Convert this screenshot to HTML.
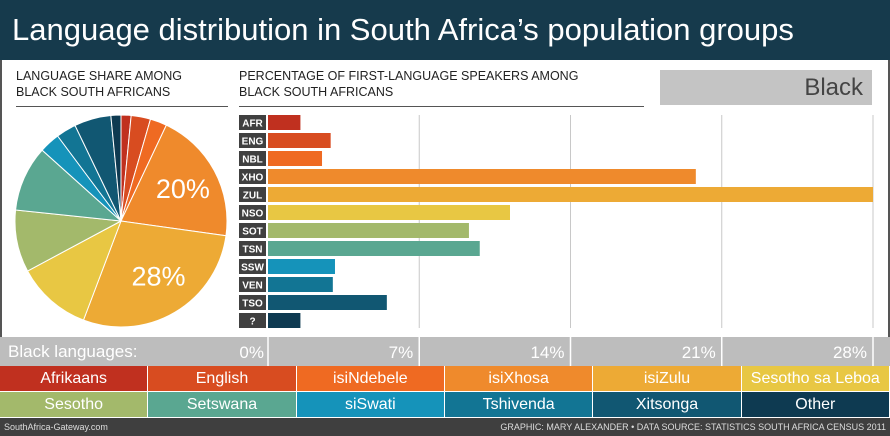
<!DOCTYPE html>
<html><head><meta charset="utf-8"><style>
body{margin:0;width:890px;height:436px;overflow:hidden;background:#fff;font-family:"Liberation Sans",sans-serif}
#wrap{position:relative;width:890px;height:436px;background:#fff}
.abs{position:absolute}
</style></head><body>
<div id="wrap">
<div class="abs" style="left:0;top:0;width:890px;height:60px;background:#163a4c;color:#fff;font-size:31px;line-height:60px;padding-left:12px;box-sizing:border-box">Language distribution in South Africa’s population groups</div>
<div class="abs" style="left:0;top:60px;width:2px;height:277px;background:#555"></div>
<div class="abs" style="left:888px;top:60px;width:2px;height:277px;background:#555"></div>
<div class="abs" style="left:16px;top:68px;width:212px;font-size:12.5px;line-height:16px;color:#222;border-bottom:1px solid #555;padding-bottom:6px">LANGUAGE SHARE AMONG<br>BLACK SOUTH AFRICANS</div>
<div class="abs" style="left:239px;top:68px;width:405px;font-size:12.5px;line-height:16px;color:#222;border-bottom:1px solid #555;padding-bottom:6px">PERCENTAGE OF FIRST-LANGUAGE SPEAKERS AMONG<br>BLACK SOUTH AFRICANS</div>
<div class="abs" style="left:660px;top:70px;width:212px;height:35px;background:#c4c4c4;color:#444;font-size:24px;line-height:35px;text-align:right;padding-right:9px;box-sizing:border-box">Black</div>
<div class="abs" style="left:0;top:337px;width:890px;height:29px;background:#bdbdbd"></div>
<div class="abs" style="left:8px;top:337px;font-size:17px;line-height:29px;color:#fff">Black languages:</div>
<svg class="abs" id="chart" style="left:0;top:0;z-index:2;pointer-events:none" width="890" height="436"></svg>
<div id="legend" class="abs" style="left:0;top:366px;width:890px;height:52px"></div>
<div class="abs" style="left:0;top:418px;width:890px;height:18px;background:#3f3f3f;color:#ddd;font-size:9px;line-height:18px">
<span style="position:absolute;left:4px">SouthAfrica-Gateway.com</span>
<span style="position:absolute;right:4px">GRAPHIC: MARY ALEXANDER • DATA SOURCE: STATISTICS SOUTH AFRICA CENSUS 2011</span></div>
</div>
<script>
const codes=["AFR","ENG","NBL","XHO","ZUL","NSO","SOT","TSN","SSW","VEN","TSO","?"];
const names=["Afrikaans","English","isiNdebele","isiXhosa","isiZulu","Sesotho sa Leboa","Sesotho","Setswana","siSwati","Tshivenda","Xitsonga","Other"];
const values=[1.5,2.9,2.5,19.8,28.0,11.2,9.3,9.8,3.1,3.0,5.5,1.5];
const ticks=[0,7,14,21,28];
const colors=["#c0301f","#d84c20","#ef6a22","#ef8a2c","#edaa35","#e8c743","#a3b96b","#5aa791","#1593ba","#127594","#115772","#0e3a51"];
const NS="http://www.w3.org/2000/svg";
const svg=document.getElementById('chart');
function mk(t,a){const e=document.createElementNS(NS,t);for(const k in a)e.setAttribute(k,a[k]);svg.appendChild(e);return e;}
const x0=268,x1=873,vmax=28;
const xs=v=>x0+(x1-x0)*v/vmax;
const rowY=i=>115+i*18;
ticks.forEach((t,i)=>{if(i===0)return;const l=mk('line',{x1:xs(t),x2:xs(t),y1:115,y2:328,stroke:'#c8c8c8','stroke-width':1});


const s=mk('line',{x1:xs(t),x2:xs(t),y1:337,y2:366,stroke:'#fff','stroke-width':1.5});


const tx=mk('text',{x:xs(t)-6,y:358,'text-anchor':'end','font-size':17,fill:'#fff','font-family':'Liberation Sans'});tx.textContent=t+'%';

});
{const s=mk('line',{x1:xs(0),x2:xs(0),y1:337,y2:366,stroke:'#fff','stroke-width':1.5});


const tx=mk('text',{x:xs(0)-4,y:358,'text-anchor':'end','font-size':17,fill:'#fff','font-family':'Liberation Sans'});tx.textContent='0%';

}
codes.forEach((c,i)=>{const y=rowY(i);
const r=mk('rect',{x:239,y:y,width:27,height:15,fill:'#404040'});


const t=mk('text',{x:252.5,y:y+11.5,'text-anchor':'middle','font-size':10,'font-weight':'bold',fill:'#fff','font-family':'Liberation Sans'});t.textContent=c;


const b=mk('rect',{x:x0,y:y,width:xs(values[i])-x0,height:15,fill:colors[i]});

});
const cx=121,cy=221,R=106,tot=values.reduce((a,b)=>a+b,0);let a=-Math.PI/2;
values.forEach((v,i)=>{const da=v/tot*2*Math.PI,a2=a+da;
const p=mk('path',{d:`M${cx},${cy}L${cx+R*Math.cos(a)},${cy+R*Math.sin(a)}A${R},${R} 0 ${da>Math.PI?1:0} 1 ${cx+R*Math.cos(a2)},${cy+R*Math.sin(a2)}Z`,fill:colors[i],stroke:'#fff','stroke-width':1});


if(v>=15){const m=(a+a2)/2;const t=mk('text',{x:cx+R*0.62*Math.cos(m)+4,y:cy+R*0.62*Math.sin(m)+8,'text-anchor':'middle','font-size':27,fill:'#fff','font-family':'Liberation Sans'});t.textContent=Math.round(v)+'%';

}
a=a2;});
const lg=document.getElementById('legend');
names.forEach((n,i)=>{const d=document.createElement('div');


const col=i%6,row=Math.floor(i/6);
d.style.cssText=`position:absolute;left:${col*148.33}px;top:${row*26}px;width:${148.33-1}px;height:25px;background:${colors[i]};color:#fff;font-size:16px;line-height:25px;text-align:center`;
d.textContent=n;lg.appendChild(d);});
</script>
</body></html>
